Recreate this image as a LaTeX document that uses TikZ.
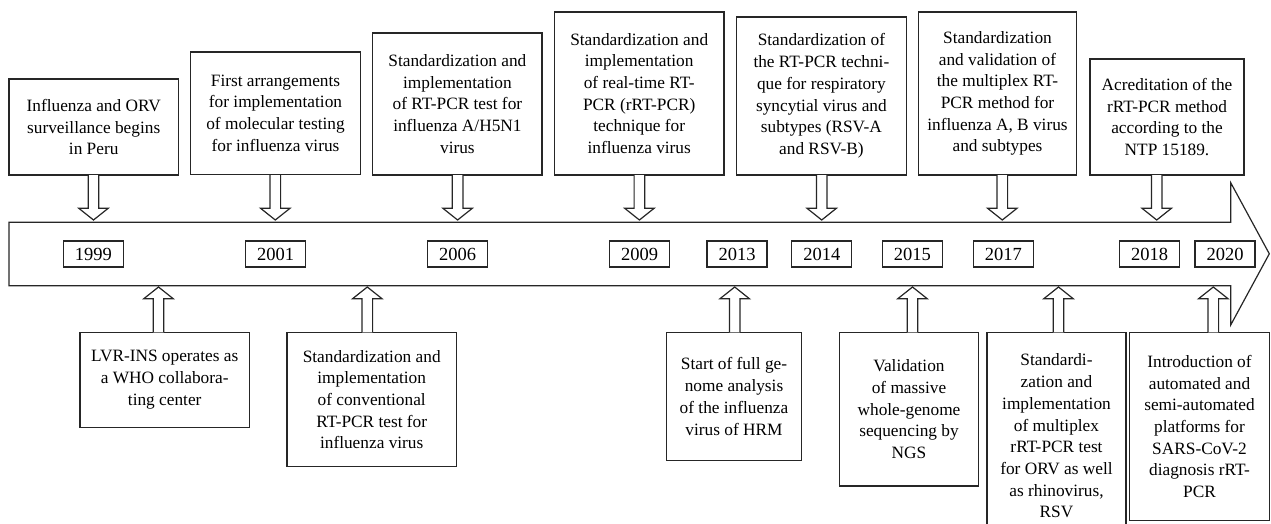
\documentclass[tikz,border=0pt]{standalone}
\usepackage{fontspec}
\setmainfont{Liberation Serif}
\usetikzlibrary{calc}
\tikzset{
  ln/.style={draw=black!85, line width=1.2pt},
  tbox/.style={ln, fill=white, inner sep=0pt, align=center,
    font=\fontsize{17.3}{21.7}\selectfont},
  ybox/.style={ln, fill=white, inner sep=0pt, minimum width=60pt, minimum height=26pt,
    font=\fontsize{18.5}{20}\selectfont},
  barrow/.style={ln, fill=white, line join=miter}
}
\newcommand\blockarr[3]{%
  \pgfmathsetmacro\adir{sign(#3-#2)}%
  \draw[barrow] (#1-5.3,#2) -- (#1-5.3,#3-11.7*\adir) -- (#1-14.7,#3-11.7*\adir) -- (#1,#3)
    -- (#1+14.7,#3-11.7*\adir) -- (#1+5.3,#3-11.7*\adir) -- (#1+5.3,#2);}
\begin{document}
\begin{tikzpicture}[x=1pt,y=-1pt]
\useasboundingbox (0,0) rectangle (1271,524);
\clip (0,0) rectangle (1271,524);
% timeline arrow
\draw[ln, fill=white, line join=miter] (9,222.3) -- (1230.7,222.3) -- (1230.7,182.7) -- (1269.3,253.8)
  -- (1230.7,325) -- (1230.7,285.7) -- (9,285.7) -- cycle;
% years
\node[ybox] (y1999) at (93.3,254) {1999};
\node[ybox] (y2001) at (275.5,254) {2001};
\node[ybox] (y2006) at (457.5,254) {2006};
\node[ybox] (y2009) at (639.5,254) {2009};
\node[ybox] (y2013) at (737,254) {2013};
\node[ybox] (y2014) at (821.8,254) {2014};
\node[ybox] (y2015) at (912.3,254) {2015};
\node[ybox] (y2017) at (1003.3,254) {2017};
\node[ybox] (y2018) at (1149.7,254) {2018};
\node[ybox] (y2020) at (1225,254) {2020};
% top boxes
\node[tbox, minimum width=169.4pt, minimum height=96pt] (t1) at (93.7,127) {Influenza and ORV\\surveillance begins\\in Peru};
\node[tbox, minimum width=169.8pt, minimum height=122.5pt] (t2) at (275.5,113.2) {First arrangements\\for implementation\\of molecular testing\\for influenza virus};
\node[tbox, minimum width=169.3pt, minimum height=142pt] (t3) at (457.4,104) {Standardization and\\implementation\\of RT-PCR test for\\influenza A/H5N1\\virus};
\node[tbox, minimum width=169.7pt, minimum height=163pt] (t4) at (639.2,93.5) {Standardization and\\implementation\\of real-time RT-\\PCR (rRT-PCR)\\technique for\\influenza virus};
\node[tbox, minimum width=170.1pt, minimum height=158pt] (t5) at (821.4,96) {Standardization of\\the RT-PCR techni-\\que for respiratory\\syncytial virus and\\subtypes (RSV-A\\and RSV-B)};
\node[tbox, minimum width=157.8pt, minimum height=163pt] (t6) at (997.5,93.5) {Standardization\\and validation of\\the multiplex RT-\\PCR method for\\influenza A, B virus\\and subtypes};
\node[tbox, minimum width=154pt, minimum height=116pt] (t7) at (1167,117) {Acreditation of the\\rRT-PCR method\\according to the\\NTP 15189.};
% bottom boxes
\node[tbox, minimum width=169.4pt, minimum height=95pt] (b1) at (164.7,379.8) {LVR-INS operates as\\a WHO collabora-\\ting center};
\node[tbox, minimum width=169.3pt, minimum height=134.4pt] (b2) at (371.7,399.5) {Standardization and\\implementation\\of conventional\\RT-PCR test for\\influenza virus};
\node[tbox, minimum width=134.5pt, minimum height=128.4pt] (b3) at (734,396.5) {Start of full ge-\\nome analysis\\of the influenza\\virus of HRM};
\node[tbox, minimum width=139.4pt, minimum height=153.7pt] (b4) at (909,409.2) {Validation\\of massive\\whole-genome\\sequencing by\\NGS};
\node[tbox, minimum width=139.1pt, minimum height=207.7pt] (b5) at (1056.5,436) {Standardi-\\zation and\\implementation\\of multiplex\\rRT-PCR test\\for ORV as well\\as rhinovirus,\\RSV};
\node[tbox, minimum width=139.6pt, minimum height=188.4pt] (b6) at (1199.5,426.5) {Introduction of\\automated and\\semi-automated\\platforms for\\SARS-CoV-2\\diagnosis rRT-\\PCR};
% down arrows
\blockarr{93.5}{175}{220}
\blockarr{275.3}{175}{220}
\blockarr{457.6}{175}{220}
\blockarr{639.4}{175}{220}
\blockarr{821.7}{175}{220}
\blockarr{1002.3}{175}{220}
\blockarr{1156.7}{175}{220}
% up arrows
\blockarr{158.5}{332.3}{287}
\blockarr{367.3}{332.3}{287}
\blockarr{734.7}{332.3}{287}
\blockarr{912.5}{332.3}{287}
\blockarr{1058.5}{332.3}{287}
\blockarr{1213.3}{332.3}{287}
\end{tikzpicture}
\end{document}
